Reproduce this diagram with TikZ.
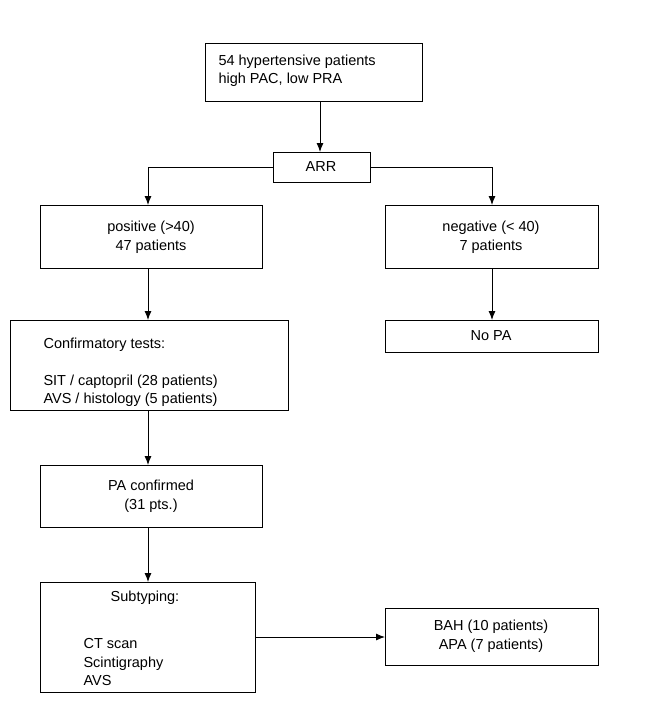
\documentclass[tikz,border=0pt]{standalone}
\usepackage{fontspec}
\setmainfont{Liberation Sans}
\usetikzlibrary{arrows.meta}
\begin{document}
\begin{tikzpicture}[x=1pt,y=-1pt,
  box/.style={draw,line width=0.8pt,inner sep=0pt},
  txt/.style={font=\fontsize{14.5}{18.5}\selectfont,align=center},
  arr/.style={line width=0.9pt,-{Latex[length=9pt,width=7pt]}}]
\useasboundingbox (0,0) rectangle (660,717);
\draw[box] (205,43) rectangle (422,101);
\node[txt,align=left,anchor=west] (top) at (215,71) {54 hypertensive patients\\high PAC, low PRA};
\coordinate (topb) at (320,101);
\draw[box] (273,152) rectangle (370,182);
\coordinate (arrt) at (320,152);
\node[txt] (arr) at (321,167) {ARR};
\coordinate (arrl) at (273,167);
\coordinate (arrr) at (370,167);
\coordinate (ll) at (148,167);
\coordinate (rr) at (492,167);
\draw[box] (40,205) rectangle (262,268);
\node[txt] (pos) at (151,237) {positive (>40)\\47 patients};
\draw[box] (385,205) rectangle (598,268);
\node[txt] (neg) at (491,237) {negative (< 40)\\7 patients};
\coordinate (post) at (148,205);
\coordinate (negt) at (492,205);
\coordinate (posb) at (148,268);
\coordinate (negb) at (492,268);
\draw[box] (10,320) rectangle (288,410);
\node[txt,align=left,anchor=north west] (conf) at (40,334) {Confirmatory tests:\\[0pt]\strut\\SIT / captopril (28 patients)\\AVS / histology (5 patients)};
\coordinate (conft) at (148,320);
\coordinate (confb) at (148,410);
\draw[box] (385,320) rectangle (598,352);
\node[txt] (nopa) at (491,336) {No PA};
\coordinate (nopat) at (492,320);
\draw[box] (40,465) rectangle (262,527);
\node[txt] (pac) at (151,496) {PA confirmed\\(31 pts.)};
\coordinate (pact) at (148,465);
\coordinate (pacb) at (148,527);
\draw[box] (40,582) rectangle (255,692);
\node[txt] (sub) at (145,598) {Subtyping:};
\node[txt,align=left,anchor=north west] (subl) at (80,614) {\strut\\CT scan\\Scintigraphy\\AVS};
\coordinate (subt) at (148,582);
\coordinate (subr) at (255,637);
\draw[box] (385,608) rectangle (598,665);
\node[txt] (bah) at (491,636) {BAH (10 patients)\\APA (7 patients)};
\coordinate (bahl) at (385,637);
\draw[arr] (topb) -- (arrt);
\draw[arr] (arrl) -- (ll) -- (post);
\draw[arr] (arrr) -- (rr) -- (negt);
\draw[arr] (posb) -- (conft);
\draw[arr] (negb) -- (nopat);
\draw[arr] (confb) -- (pact);
\draw[arr] (pacb) -- (subt);
\draw[arr] (subr) -- (bahl);
\end{tikzpicture}
\end{document}
